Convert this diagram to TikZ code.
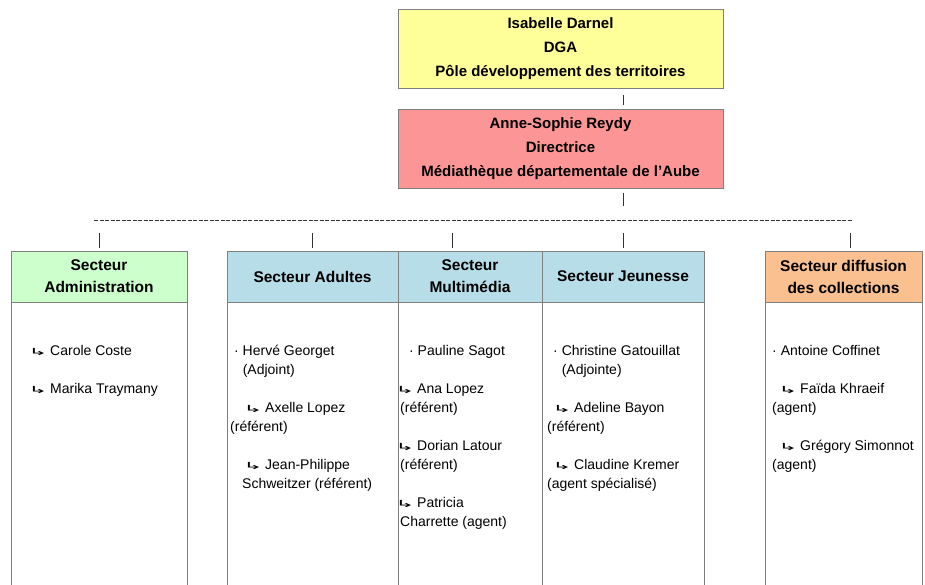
\documentclass[tikz,border=0pt]{standalone}
\usepackage{fontspec}
\setmainfont{Liberation Sans}
\newfontfamily\arrowfont{DejaVu Sans}
\usepackage{graphicx}
\usepackage{tikz}
\usetikzlibrary{positioning}
\definecolor{dgacolor}{HTML}{FFFF99}
\definecolor{dircolor}{HTML}{FC9696}
\definecolor{admincolor}{HTML}{CCFFCC}
\definecolor{servicecolor}{HTML}{B7DDE8}
\definecolor{diffcolor}{HTML}{FAC090}
\definecolor{linecolor}{HTML}{7F7F7F}
\newcommand{\arr}{\makebox[17pt][l]{\hspace*{-5pt}\scalebox{1.8}[0.75]{\arrowfont\fontsize{13}{13}\selectfont ↳}}}

\begin{document}
\begin{tikzpicture}[
    x=1pt, y=-1pt,
    topbox/.style={rectangle, draw=linecolor, line width=0.8pt,
                   minimum width=325pt, minimum height=79pt,
                   align=center, inner sep=0pt,
                   font=\fontsize{15}{24}\selectfont\bfseries},
    sectorhead/.style={rectangle, draw=linecolor, line width=0.8pt,
                       minimum width=#1, minimum height=51pt,
                       align=center, inner sep=0pt,
                       font=\fontsize{15.5}{22}\selectfont\bfseries},
    sectorbody/.style={rectangle, draw=linecolor, line width=0.8pt,
                       minimum width=#1, minimum height=300pt, inner sep=0pt},
    % base = baseline of the last line
    staff/.style={anchor=base west, align=left, inner sep=0pt,
                  font=\fontsize{14}{19}\selectfont},
    stem/.style={draw=black!80, line width=0.8pt},
    dashline/.style={draw=black!80, line width=0.8pt, dash pattern=on 4pt off 1.5pt}
]
\useasboundingbox (0,0) rectangle (925,584);
\clip (0,0) rectangle (925,584);

% direction
\node[topbox, fill=dgacolor] (dga) at (560.5,48.5)
    {Isabelle Darnel\\DGA\\Pôle développement des territoires};
\node[topbox, fill=dircolor] (dir) at (560.5,149)
    {Anne-Sophie Reydy\\Directrice\\Médiathèque départementale de l’Aube};

\draw[stem] ([xshift=62.5pt,yshift=-7pt]dga.south) -- ([xshift=62.5pt,yshift=4pt]dir.north);
\draw[stem] ([xshift=62.5pt,yshift=-4pt]dir.south) -- ++(0,-13pt);

\coordinate (dashl) at (94,220);
\coordinate (dashr) at (852,220);
\draw[dashline] (dashl) -- (dashr);

% secteurs
\node[sectorhead=176pt, fill=admincolor] (admin) at (99,276.5) {Secteur\\Administration};
\node[sectorhead=171pt, fill=servicecolor] (adultes) at (312.5,276.5) {Secteur Adultes};
\node[sectorhead=144pt, fill=servicecolor] (multi) at (470,276.5) {Secteur\\Multimédia};
\node[sectorhead=162pt, fill=servicecolor] (jeunesse) at (623,276.5) {Secteur Jeunesse};
\node[sectorhead=157pt, fill=diffcolor] (diffusion) at (843.5,276.5) {Secteur diffusion\\des collections};

\node[sectorbody=176pt, below=0pt of admin] (adminbody) {};
\node[sectorbody=171pt, below=0pt of adultes] (adultesbody) {};
\node[sectorbody=144pt, below=0pt of multi] (multibody) {};
\node[sectorbody=162pt, below=0pt of jeunesse] (jeunessebody) {};
\node[sectorbody=157pt, below=0pt of diffusion] (diffusionbody) {};

\draw[stem] ([yshift=3pt]admin.north) -- ++(0,15pt);
\draw[stem] ([yshift=3pt]adultes.north) -- ++(0,15pt);
\draw[stem] ([xshift=-18pt,yshift=3pt]multi.north) -- ++(0,15pt);
\draw[stem] ([yshift=3pt]jeunesse.north) -- ++(0,15pt);
\draw[stem] ([xshift=6.5pt,yshift=3pt]diffusion.north) -- ++(0,15pt);

% equipes
\node[staff] (adminstaff) at (33,393)
    {\arr Carole Coste\\[19pt]\arr Marika Traymany};
\node[staff] (adultesstaff) at (230,488)
    {\hspace*{4pt}· Hervé Georget\\\hspace*{4pt}\phantom{· }(Adjoint)\\[19pt]%
     \hspace*{18pt}\arr Axelle Lopez\\(référent)\\[19pt]%
     \hspace*{18pt}\arr Jean-Philippe\\\hspace*{12pt}Schweitzer (référent)};
\node[staff] (multistaff) at (400,526)
    {\hspace*{9pt}· Pauline Sagot\\[19pt]%
     \arr Ana Lopez\\(référent)\\[19pt]%
     \arr Dorian Latour\\(référent)\\[19pt]%
     \arr Patricia\\Charrette (agent)};
\node[staff] (jeunessestaff) at (547,488)
    {\hspace*{6pt}· Christine Gatouillat\\\hspace*{6pt}\phantom{· }(Adjointe)\\[19pt]%
     \hspace*{10pt}\arr Adeline Bayon\\(référent)\\[19pt]%
     \hspace*{10pt}\arr Claudine Kremer\\(agent spécialisé)};
\node[staff] (diffusionstaff) at (772,469)
    {· Antoine Coffinet\\[19pt]%
     \hspace*{11pt}\arr Faïda Khraeif\\(agent)\\[19pt]%
     \hspace*{11pt}\arr Grégory Simonnot\\(agent)};
\end{tikzpicture}
\end{document}
